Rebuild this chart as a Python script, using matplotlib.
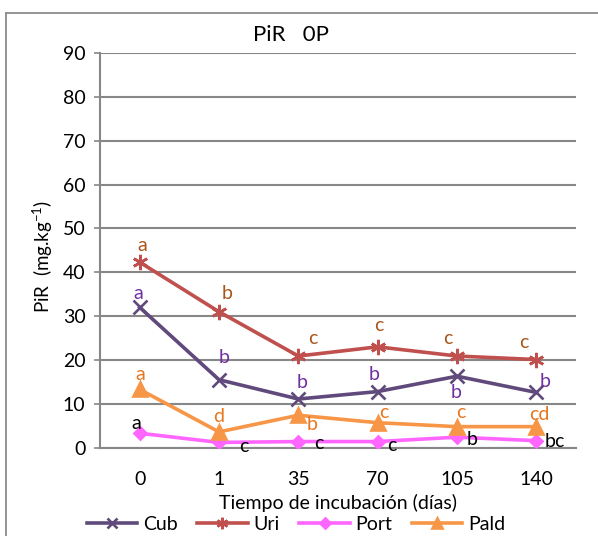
import matplotlib
matplotlib.use("Agg")
import matplotlib.pyplot as plt
from matplotlib.lines import Line2D

plt.rcParams['font.family'] = ['Lato', 'DejaVu Sans']

categories = ["0", "1", "35", "70", "105", "140"]
cub = [32.0, 15.5, 11.1, 12.8, 16.3, 12.6]
uri = [42.3, 31.0, 20.9, 23.0, 20.9, 20.1]
port = [3.3, 1.2, 1.4, 1.4, 2.4, 1.6]
pald = [13.3, 3.6, 7.4, 5.7, 4.8, 4.8]

cub_letters = ["a", "b", "b", "b", "b", "b"]
uri_letters = ["a", "b", "c", "c", "c", "c"]
port_letters = ["a", "c", "c", "c", "b", "bc"]
pald_letters = ["a", "d", "b", "c", "c", "cd"]

title = "PiR   0P"
xlabel = "Tiempo de incubación (días)"
ylabel = r"PiR  (mg.kg$^{\mathregular{-1}}$)"
yticks = [0, 10, 20, 30, 40, 50, 60, 70, 80, 90]

W, H = 598, 536
fig = plt.figure(figsize=(W / 100, H / 100), dpi=100)
ax = fig.add_axes([100 / W, 1 - 447.7 / H, 476 / W, (447.7 - 53) / H])

x = [i + 0.5 for i in range(len(categories))]
grid_c = "#878787"
fs = 14

series = [
    ("Cub", cub, "#604A7B", "x", 10, cub_letters, "#7030A0"),
    ("Uri", uri, "#C0504D", (6, 2, 0), 11, uri_letters, "#A8561C"),
    ("Port", port, "#FF66FF", "D", 6.5, port_letters, "black"),
    ("Pald", pald, "#F79646", "^", 10, pald_letters, "#E8761E"),
]

handles = []
for name, vals, col, mk, ms, letters, lcol in series:
    (ln,) = ax.plot(x, vals, color=col, lw=2.6, marker=mk, ms=ms,
                    mew=1.9, mec=col, mfc=col, label=name, zorder=3,
                    solid_joinstyle="round")
    handles.append(ln)

# letter offsets in pixels (dx, dy with +dy downward)
offsets = {
    "Uri": [(3, -17), (8, -18), (14, -18), (1, -21), (-9, -18), (-13, -17)],
    "Cub": [(-1, -14), (5, -22), (4, -17), (-4, -17), (-1, 16), (9, -11)],
    "Pald": [(1, -15), (0, -15), (14, 9), (6, -10), (4, -14), (3, -12)],
    "Port": [(-3, -10), (25, 4), (20, 2), (14, 4), (15, 2), (18, 1)],
}
for name, vals, col, mk, ms, letters, lcol in series:
    for xi, v, lt, (dx, dy) in zip(x, vals, letters, offsets[name]):
        ax.annotate(lt, (xi, v), xytext=(dx * 0.72, -dy * 0.72),
                    textcoords="offset points", ha="center", va="center",
                    color=lcol, fontsize=fs, zorder=5)

ax.set_xlim(0, len(categories))
ax.set_ylim(0, 90)
ax.set_yticks(yticks)
ax.set_xticks(x)
ax.set_xticklabels(categories)
ax.yaxis.grid(True, color=grid_c, lw=1.5)
ax.set_axisbelow(True)
for s in ["top", "right"]:
    ax.spines[s].set_visible(False)
for s in ["left", "bottom"]:
    ax.spines[s].set_color(grid_c)
    ax.spines[s].set_linewidth(1.5)
ax.tick_params(axis="y", length=4.5, width=1.2, color=grid_c, labelsize=fs, pad=6)
ax.tick_params(axis="x", length=0, labelsize=fs, pad=17)
ax.set_xlabel(xlabel, fontsize=fs, labelpad=4)

fig.text(43 / W, 1 - 256 / H, ylabel, rotation=90, ha="center", va="center", fontsize=13.5)
fig.text(291 / W, 1 - 35 / H, title, ha="center", va="center", fontsize=16)

fig.legend(handles=handles, loc="center", bbox_to_anchor=(296 / W, 1 - 524 / H),
           ncol=4, frameon=False, fontsize=fs, handlelength=2.6, markerscale=0.75,
           handletextpad=0.3, columnspacing=1.0, borderaxespad=0)

# outer chart border (cropped at right/bottom)
fig.add_artist(Line2D([6 / W, 6 / W], [0, 1 - 13 / H], transform=fig.transFigure,
                      color="#8C8C8C", lw=1.3))
fig.add_artist(Line2D([6 / W, 1], [1 - 13 / H, 1 - 13 / H], transform=fig.transFigure,
                      color="#8C8C8C", lw=1.3))

fig.savefig("out.png", dpi=100)
